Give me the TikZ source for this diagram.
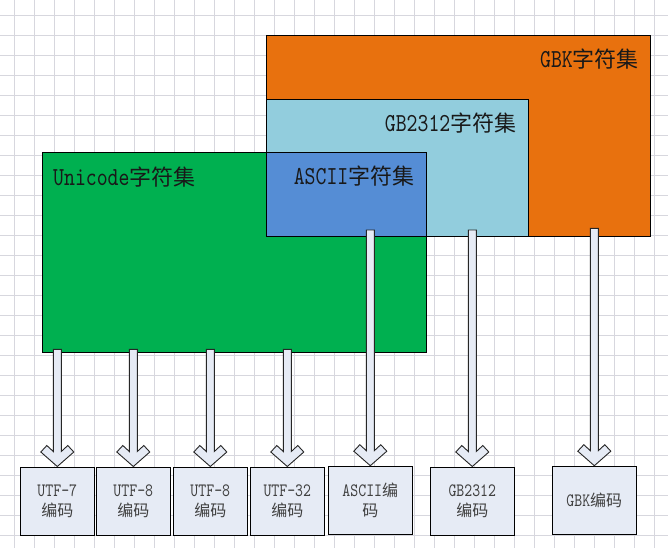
\documentclass[tikz,border=0pt]{standalone}
\usepackage{fontspec}
\usepackage{tikz}
\usetikzlibrary{calc}
\setmonofont{lmmono10-regular.otf}[Scale=1.18,FakeStretch=0.8]
\newfontfamily\cjk{Noto Sans CJK SC}
\definecolor{gbkorange}{RGB}{232,113,14}
\definecolor{gbblue}{RGB}{146,205,221}
\definecolor{asciiblue}{RGB}{85,141,213}
\definecolor{unigreen}{RGB}{0,176,80}
\definecolor{boxfill}{RGB}{230,235,245}
\definecolor{gridgray}{RGB}{215,215,222}
\tikzset{
  gridline/.style={draw=gridgray, line width=0.8pt},
  setrect/.style={draw=black, line width=1pt},
  setlabel/.style={inner sep=0pt, font=\fontsize{22}{24}\selectfont\ttfamily, text=black!90},
  codebox/.style={draw=black, line width=1pt, fill=boxfill, inner sep=0pt, minimum height=68pt,
    align=center, font=\fontsize{16}{20}\selectfont\ttfamily, text=black!75},
  hollow/.style={draw=black!85, line width=0.9pt, fill=boxfill, line join=miter}
}
\def\hollowarrow(#1)(#2){\draw[hollow] ($(#1)+(-4,0)$) -- ($(#2)+(-4,-15)$) -- ($(#2)+(-10.5,-21)$) -- ($(#2)+(-16.5,-14.5)$) -- (#2) -- ($(#2)+(16.5,-14.5)$) -- ($(#2)+(10.5,-21)$) -- ($(#2)+(4,-15)$) -- ($(#1)+(4,0)$) -- cycle;}

\begin{document}
\begin{tikzpicture}[x=1pt,y=-1pt]
			%%%%% START %%%%%
			\useasboundingbox (0,0) rectangle (668,548);
			\fill[white] (0,0) rectangle (668,548);
			\foreach \x in {14.5,34.5,...,660} \draw[gridline] (\x,0) -- (\x,548);
			\foreach \y in {15,35,...,545} \draw[gridline] (0,\y) -- (668,\y);
			
			\draw[setrect, fill=gbkorange] (266,35.3) rectangle (650.3,236);
			\draw[setrect, fill=gbblue] (266,99.3) rectangle (528.3,236);
			\draw[setrect, fill=unigreen] (42.3,152.5) rectangle (426,352.7);
			\draw[setrect, fill=asciiblue] (266,152.5) rectangle (426,236);
			
			\node[setlabel, anchor=east] (gbklabel) at (639,59) {GBK{\cjk 字符集}};
			\node[setlabel, anchor=east] (gblabel) at (516.5,123.3) {GB2312{\cjk 字符集}};
			\node[setlabel, anchor=east] (asciilabel) at (414.5,176) {ASCII{\cjk 字符集}};
			\node[setlabel, anchor=west] (unilabel) at (53,176.7) {Unicode{\cjk 字符集}};
			
			\node[codebox, minimum width=74pt] (utf7) at (57.3,501) {UTF-7\\{\cjk 编码}};
			\node[codebox, minimum width=74pt] (utf8a) at (133.3,501) {UTF-8\\{\cjk 编码}};
			\node[codebox, minimum width=74pt] (utf8b) at (210.3,501) {UTF-8\\{\cjk 编码}};
			\node[codebox, minimum width=74pt] (utf32) at (287.3,501) {UTF-32\\{\cjk 编码}};
			\node[codebox, minimum width=84pt] (asciicode) at (370.3,500.2) {ASCII{\cjk 编}\\{\cjk 码}};
			\node[codebox, minimum width=84pt] (gbcode) at (472.3,501) {GB2312\\{\cjk 编码}};
			\node[codebox, minimum width=84pt] (gbkcode) at (594.3,500.2) {GBK{\cjk 编码}};
			
			\coordinate (out1) at (57.3,349.3);
			\coordinate (out2) at (133.3,349.3);
			\coordinate (out3) at (210.3,349.3);
			\coordinate (out4) at (287.3,349.3);
			\coordinate (out5) at (370.3,230);
			\coordinate (out6) at (472.3,230);
			\coordinate (out7) at (594.3,228.3);
			
			\hollowarrow(out1)(utf7.north)
			\hollowarrow(out2)(utf8a.north)
			\hollowarrow(out3)(utf8b.north)
			\hollowarrow(out4)(utf32.north)
			\hollowarrow(out5)(asciicode.north)
			\hollowarrow(out6)(gbcode.north)
			\hollowarrow(out7)(gbkcode.north)
			%%%%% END %%%%%
\end{tikzpicture}
\end{document}
